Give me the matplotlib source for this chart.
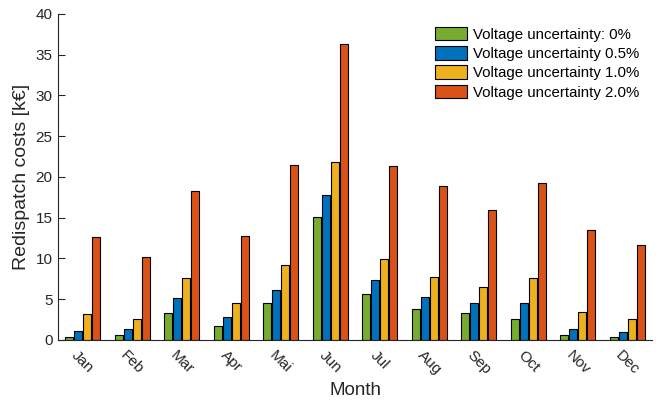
import matplotlib
matplotlib.use("Agg")
import matplotlib.pyplot as plt
import numpy as np

plt.rcParams['font.family'] = ['Liberation Sans', 'DejaVu Sans']

months = ["Jan", "Feb", "Mar", "Apr", "Mai", "Jun", "Jul", "Aug", "Sep", "Oct", "Nov", "Dec"]
series_labels = ["Voltage uncertainty: 0%", "Voltage uncertainty 0.5%",
                 "Voltage uncertainty 1.0%", "Voltage uncertainty 2.0%"]
unc_0 = [0.41, 0.6, 3.35, 1.7, 4.55, 15.1, 5.6, 3.84, 3.31, 2.54, 0.57, 0.41]
unc_05 = [1.15, 1.3, 5.1, 2.85, 6.1, 17.8, 7.36, 5.24, 4.58, 4.5, 1.39, 0.98]
unc_10 = [3.15, 2.6, 7.55, 4.6, 9.2, 21.8, 9.94, 7.69, 6.54, 7.57, 3.44, 2.54]
unc_20 = [12.6, 10.15, 18.3, 12.7, 21.5, 36.3, 21.3, 18.85, 15.95, 19.22, 13.46, 11.6]
colors = ["#77AC30", "#0072BD", "#EDB120", "#D95319"]

data = [unc_0, unc_05, unc_10, unc_20]
axcol = "#262626"

fig = plt.figure(figsize=(6.72, 4.05), dpi=100)
ax = fig.add_axes([0.0863, 0.1605, 0.884, 0.805])

x = np.arange(1, len(months) + 1)
w = 0.162
step = 0.182
for i, (vals, c, lab) in enumerate(zip(data, colors, series_labels)):
    ax.bar(x + (i - 1.5) * step, vals, width=w, color=c, edgecolor="black",
           linewidth=0.8, label=lab, zorder=2)

ax.set_xlim(0.5, 12.5)
ax.set_ylim(0, 40)
ax.set_yticks(np.arange(0, 41, 5))
ax.set_xticks(x)
ax.set_xticklabels(months, rotation=-45, ha="center", va="top")
ax.tick_params(axis="x", length=0, pad=6, labelsize=11, colors=axcol)
ax.tick_params(axis="y", direction="in", length=5, width=0.8, labelsize=11, colors=axcol, pad=4)
for s in ["top", "right"]:
    ax.spines[s].set_visible(False)
for s in ["left", "bottom"]:
    ax.spines[s].set_color(axcol)
    ax.spines[s].set_linewidth(0.8)
ax.spines["bottom"].set_zorder(3)

ax.set_ylabel("Redispatch costs [k€]", fontsize=14, color=axcol, labelpad=4)
ax.set_xlabel("Month", fontsize=13.5, color=axcol, labelpad=3)

leg = fig.legend(loc="upper left", bbox_to_anchor=(0.647, 0.934), frameon=False,
                 fontsize=10.8, handlelength=2.13, handleheight=1.0, handletextpad=0.45,
                 labelspacing=0.3, borderpad=0, borderaxespad=0)
for t in leg.get_texts():
    t.set_color("black")

fig.savefig("out.png", dpi=100)
